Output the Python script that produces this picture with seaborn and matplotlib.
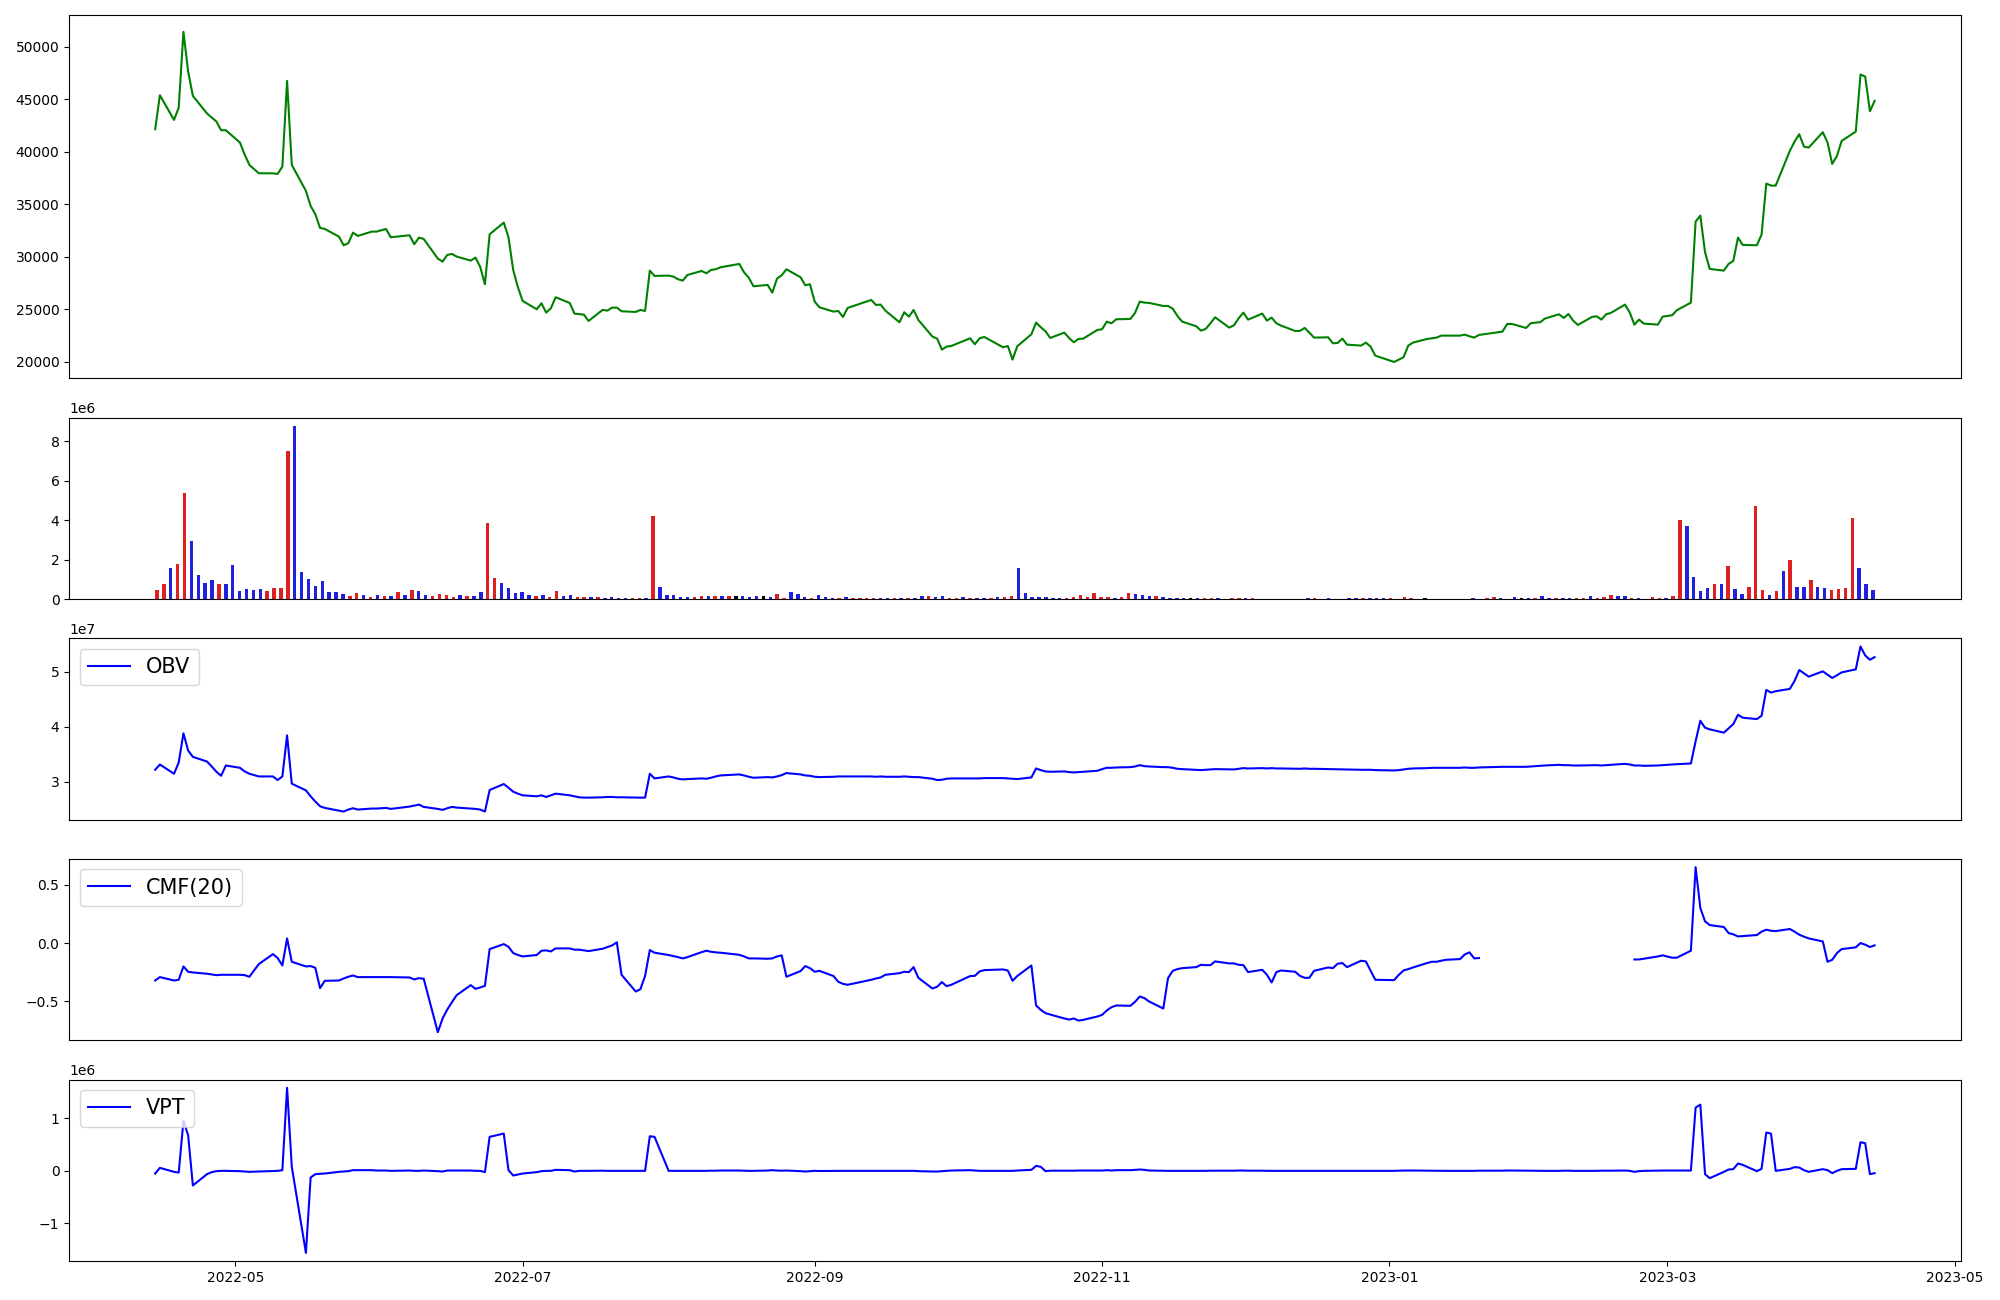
import numpy as np
import pandas as pd
import matplotlib
matplotlib.use("Agg")
import matplotlib.pyplot as plt
import seaborn as sns

# ---------------- data ----------------
start_date = "2022-04-14"
end_date = "2023-04-14"
holidays = ["2022-05-05", "2022-06-01", "2022-06-06", "2022-08-15", "2022-09-09",
            "2022-09-12", "2022-10-03", "2022-10-10", "2022-12-30", "2023-01-23",
            "2023-01-24", "2023-03-01"]

close = [
    42135, 45370, 43023, 44196, 51400, 47621, 45306, 43638, 43245, 42864,
    42039, 42039, 40866, 39724, 38741, 37948, 37940, 37885, 38582, 46733,
    38741, 36267, 34840, 34047, 32747, 32651, 31922, 31097, 31288, 32303,
    31986, 32398, 32398, 32651, 31859, 32049, 31193, 31827, 31700, 29829,
    29543, 30177, 30273, 30019, 29639, 29924, 29036, 27387, 32144, 33254,
    31859, 28750, 27108, 25801, 25008, 25579, 24691, 25103, 26150, 25611,
    24596, 24549, 24500, 23898, 24954, 24881, 25166, 25166, 24817, 24754,
    24944, 24849, 28687, 28180, 28211, 28116, 27862, 27736, 28275, 28655,
    28433, 28750, 28814, 29004, 29321, 28528, 28020, 27196, 27323, 26593,
    27926, 28243, 28814, 28053, 27291, 27387, 25738, 25198, 24786, 24849,
    24278, 25135, 25896, 25420, 25452, 24881, 23771, 24722, 24310, 24944,
    23993, 22407, 22217, 21170, 21456, 21519, 22249, 21678, 22249, 22376,
    21392, 21519, 20219, 21487, 22629, 23739, 23295, 22915, 22280, 22788,
    22280, 21868, 22185, 22217, 23041, 23105, 23834, 23676, 24056, 24088,
    24659, 25738, 25643, 25611, 25326, 25326, 25071, 24373, 23834, 23390,
    22978, 23136, 23676, 24246, 23263, 23485, 24151, 24690, 24024, 24595,
    23930, 24215, 23676, 23454, 22946, 22946, 23232, 22788, 22312, 22344,
    21773, 21805, 22217, 21646, 21551, 21836, 21456, 20599, 19997, 20219,
    20441, 21551, 21836, 22185, 22249, 22312, 22502, 22502, 22502, 22597,
    22439, 22312, 22566, 22883, 23612, 23612, 23232, 23676, 23739, 23771,
    24120, 24532, 24183, 24564, 23930, 23517, 24278, 24342, 24025, 24532,
    24659, 25452, 24722, 23549, 24025, 23644, 23549, 24310, 24437, 24912,
    25642, 33349, 33920, 30431, 28845, 28687, 29321, 29607, 31827, 31129,
    31097, 32112, 36965, 36774, 36774, 40073, 40961, 41659, 40485, 40390,
    41849, 40866, 38836, 39597, 41024, 41912, 47336, 47146, 43847, 44830,
]

# volume in millions of shares
volume_m = [
    0.47, 0.78, 1.59, 1.79, 5.38, 2.95, 1.23, 0.83, 0.98, 0.78,
    0.78, 1.74, 0.42, 0.52, 0.47, 0.52, 0.42, 0.57, 0.57, 7.50,
    8.77, 1.38, 1.03, 0.67, 0.93, 0.37, 0.37, 0.27, 0.17, 0.32,
    0.22, 0.12, 0.22, 0.17, 0.17, 0.37, 0.22, 0.47, 0.42, 0.22,
    0.17, 0.27, 0.22, 0.12, 0.22, 0.17, 0.17, 0.37, 3.86, 1.08,
    0.83, 0.57, 0.32, 0.37, 0.22, 0.17, 0.22, 0.12, 0.42, 0.17,
    0.22, 0.12, 0.12, 0.12, 0.12, 0.07, 0.12, 0.07, 0.07, 0.07,
    0.07, 0.07, 4.22, 0.62, 0.22, 0.22, 0.12, 0.12, 0.12, 0.17,
    0.17, 0.17, 0.17, 0.17, 0.17, 0.17, 0.12, 0.17, 0.17, 0.12,
    0.27, 0.07, 0.37, 0.27, 0.12, 0.07, 0.22, 0.12, 0.07, 0.07,
    0.12, 0.07, 0.07, 0.07, 0.07, 0.07, 0.07, 0.07, 0.07, 0.07,
    0.07, 0.17, 0.17, 0.12, 0.17, 0.07, 0.07, 0.12, 0.07, 0.07,
    0.07, 0.07, 0.12, 0.12, 0.17, 1.59, 0.32, 0.12, 0.12, 0.12,
    0.07, 0.07, 0.07, 0.12, 0.22, 0.12, 0.32, 0.12, 0.12, 0.07,
    0.12, 0.32, 0.27, 0.22, 0.17, 0.17, 0.12, 0.07, 0.07, 0.07,
    0.07, 0.07, 0.07, 0.07, 0.07, 0.00, 0.07, 0.07, 0.07, 0.07,
    0.00, 0.00, 0.00, 0.00, 0.00, 0.00, 0.00, 0.07, 0.07, 0.00,
    0.07, 0.00, 0.00, 0.07, 0.07, 0.07, 0.07, 0.07, 0.07, 0.07,
    0.00, 0.12, 0.07, 0.00, 0.07, 0.00, 0.00, 0.00, 0.00, 0.00,
    0.00, 0.07, 0.00, 0.07, 0.12, 0.07, 0.00, 0.12, 0.07, 0.07,
    0.07, 0.17, 0.07, 0.07, 0.07, 0.07, 0.07, 0.07, 0.17, 0.07,
    0.12, 0.22, 0.17, 0.17, 0.07, 0.07, 0.00, 0.12, 0.07, 0.07,
    0.17, 4.01, 3.71, 1.13, 0.42, 0.57, 0.78, 0.78, 1.69, 0.52,
    0.27, 0.62, 4.72, 0.47, 0.22, 0.42, 1.43, 1.99, 0.62, 0.62,
    0.98, 0.62, 0.57, 0.47, 0.52, 0.57, 4.11, 1.59, 0.78, 0.47,
]

# candle direction of each day: r = up, b = down, k = unchanged
bar_dir = (
    "rrbrrbbbbr" "bbbbbbrrrr" "bbbbbbbbrr" "brbrbrbrbb" "rrrrbrbbrr"
    "bbbbbrbrrb" "brrbrbbbbr" "rbrbbbbbrr" "brbrkbbbkb" "rrbbbrbbbr"
    "brrrrbbrbr" "bbrbbrrbrb" "brbrrbbbbb" "bbrrrrrrrb" "rrbbbrbbbb"
    "kbrrbkrrbr" "kkkkkkkbrk" "bkkbbrbbbr" "krrkkkkkkk" "kbkrrbkbkb"
    "rbbrbbrrbr" "rrbbrbkrrb" "rrbbbbrbrb" "brrrbrbrbb" "rbbrrrrbbb"
)

# On-Balance Volume, in units of 1e7
obv_e7 = [
    3.217, 3.313, 3.145, 3.349, 3.880, 3.566, 3.452, 3.367, 3.277, 3.181,
    3.108, 3.295, 3.253, 3.187, 3.145, 3.096, 3.096, 3.030, 3.096, 3.843,
    2.964, 2.843, 2.735, 2.639, 2.554, 2.524, 2.476, 2.458, 2.494, 2.518,
    2.494, 2.512, 2.512, 2.524, 2.506, 2.548, 2.566, 2.584, 2.542, 2.506,
    2.488, 2.518, 2.542, 2.530, 2.512, 2.506, 2.494, 2.458, 2.849, 2.958,
    2.892, 2.819, 2.783, 2.753, 2.735, 2.753, 2.723, 2.753, 2.783, 2.753,
    2.735, 2.717, 2.711, 2.711, 2.717, 2.723, 2.723, 2.717, 2.717, 2.711,
    2.711, 2.711, 3.145, 3.060, 3.096, 3.078, 3.054, 3.042, 3.048, 3.060,
    3.054, 3.072, 3.096, 3.114, 3.133, 3.114, 3.090, 3.072, 3.084, 3.078,
    3.096, 3.120, 3.157, 3.133, 3.114, 3.108, 3.090, 3.084, 3.090, 3.096,
    3.096, 3.096, 3.096, 3.090, 3.096, 3.090, 3.090, 3.096, 3.090, 3.084,
    3.084, 3.054, 3.030, 3.036, 3.054, 3.060, 3.060, 3.060, 3.060, 3.066,
    3.066, 3.060, 3.054, 3.048, 3.078, 3.241, 3.211, 3.187, 3.181, 3.187,
    3.175, 3.169, 3.175, 3.181, 3.199, 3.229, 3.253, 3.253, 3.259, 3.265,
    3.277, 3.301, 3.283, 3.277, 3.265, 3.265, 3.253, 3.235, 3.229, 3.217,
    3.211, 3.217, 3.223, 3.229, 3.223, 3.223, 3.235, 3.247, 3.241, 3.247,
    3.241, 3.247, 3.241, 3.241, 3.235, 3.235, 3.241, 3.235, 3.235, 3.229,
    3.229, 3.223, 3.223, 3.223, 3.217, 3.217, 3.217, 3.211, 3.205, 3.211,
    3.223, 3.235, 3.241, 3.247, 3.253, 3.253, 3.253, 3.253, 3.253, 3.259,
    3.253, 3.253, 3.259, 3.271, 3.271, 3.271, 3.271, 3.277, 3.283, 3.289,
    3.295, 3.307, 3.301, 3.301, 3.295, 3.295, 3.301, 3.301, 3.295, 3.301,
    3.307, 3.325, 3.313, 3.295, 3.295, 3.289, 3.295, 3.301, 3.313, 3.319,
    3.331, 3.735, 4.108, 3.982, 3.952, 3.892, 3.970, 4.048, 4.217, 4.163,
    4.139, 4.199, 4.669, 4.620, 4.645, 4.687, 4.831, 5.030, 4.970, 4.910,
    5.006, 4.946, 4.886, 4.934, 4.988, 5.042, 5.458, 5.295, 5.217, 5.265,
]

nan = float("nan")
cmf20 = [
    -0.322, -0.293, -0.322, -0.316, -0.201, -0.247, -0.253, -0.264, -0.270, -0.276,
    -0.273, -0.273, -0.273, -0.276, -0.290, -0.181, -0.095, -0.129, -0.193, 0.040,
    -0.161, -0.201, -0.198, -0.213, -0.388, -0.325, -0.322, -0.305, -0.290, -0.279,
    -0.293, -0.293, -0.293, -0.293, -0.293, -0.296, -0.313, -0.302, -0.307, -0.767,
    -0.650, -0.572, -0.509, -0.448, -0.362, -0.394, -0.382, -0.368, -0.052, -0.009,
    -0.032, -0.086, -0.103, -0.115, -0.103, -0.066, -0.063, -0.072, -0.046, -0.046,
    -0.057, -0.057, -0.063, -0.069, -0.049, -0.034, -0.020, 0.006, -0.273, -0.417,
    -0.397, -0.282, -0.060, -0.083, -0.103, -0.112, -0.121, -0.132, -0.121, -0.078,
    -0.066, -0.075, -0.080, -0.083, -0.101, -0.115, -0.132, -0.132, -0.135, -0.132,
    -0.115, -0.106, -0.290, -0.241, -0.198, -0.216, -0.247, -0.239, -0.284, -0.333,
    -0.351, -0.359, -0.316, -0.305, -0.296, -0.273, -0.259, -0.247, -0.250, -0.207,
    -0.299, -0.391, -0.376, -0.336, -0.371, -0.359, -0.284, -0.282, -0.244, -0.233,
    -0.227, -0.236, -0.325, -0.284, -0.193, -0.537, -0.575, -0.603, -0.615, -0.649,
    -0.658, -0.649, -0.667, -0.661, -0.632, -0.618, -0.580, -0.552, -0.537, -0.540,
    -0.506, -0.460, -0.474, -0.503, -0.563, -0.302, -0.239, -0.224, -0.216, -0.207,
    -0.187, -0.190, -0.190, -0.158, -0.175, -0.175, -0.187, -0.190, -0.250, -0.230,
    -0.273, -0.339, -0.250, -0.236, -0.247, -0.282, -0.299, -0.299, -0.239, -0.210,
    -0.216, -0.178, -0.172, -0.207, -0.152, -0.158, -0.236, -0.316, -0.319, -0.273,
    -0.236, -0.224, -0.210, -0.172, -0.161, -0.161, -0.152, -0.144, -0.138, -0.098,
    -0.080, -0.132, -0.129, nan, nan, nan, nan, nan, nan, nan,
    nan, nan, nan, nan, nan, nan, nan, nan, nan, nan,
    nan, nan, nan, -0.141, -0.141, -0.135, -0.115, -0.106, -0.126, -0.126,
    -0.066, 0.653, 0.302, 0.187, 0.155, 0.138, 0.086, 0.075, 0.057, 0.060,
    0.069, 0.098, 0.115, 0.106, 0.103, 0.121, 0.098, 0.072, 0.055, 0.040,
    0.014, -0.161, -0.144, -0.086, -0.052, -0.037, 0.000, -0.014, -0.034, -0.020,
]

# Volume Price Trend, in units of 1e6
vpt_e6 = [
    -0.051, 0.057, -0.019, -0.032, 0.952, 0.679, -0.279, -0.063, -0.025, -0.006,
    0.000, 0.000, -0.006, -0.013, -0.019, -0.013, -0.006, 0.000, 0.013, 1.583,
    0.076, -1.564, -0.127, -0.063, -0.057, -0.051, -0.019, -0.013, -0.006, 0.013,
    0.013, 0.013, 0.006, 0.006, 0.000, 0.006, 0.000, 0.000, 0.006, -0.006,
    -0.013, 0.006, 0.006, 0.006, 0.006, 0.000, 0.000, -0.025, 0.648, 0.711,
    0.013, -0.089, -0.070, -0.051, -0.025, -0.006, 0.000, 0.000, 0.019, 0.013,
    -0.013, 0.000, 0.000, 0.000, 0.003, 0.000, 0.000, 0.000, 0.000, 0.000,
    0.000, 0.000, 0.660, 0.648, 0.000, 0.000, 0.000, 0.000, 0.000, 0.000,
    0.000, 0.003, 0.003, 0.006, 0.006, 0.003, 0.000, 0.000, 0.006, 0.013,
    0.006, 0.003, 0.006, -0.006, -0.013, -0.006, 0.000, -0.003, 0.000, 0.000,
    0.000, 0.000, 0.000, 0.000, 0.000, 0.000, 0.000, 0.000, 0.000, 0.000,
    -0.006, -0.013, -0.013, -0.006, 0.000, 0.006, 0.013, 0.006, 0.000, 0.000,
    0.000, 0.000, 0.000, 0.006, 0.019, 0.095, 0.076, -0.006, 0.003, 0.003,
    0.003, 0.003, 0.006, 0.006, 0.006, 0.006, 0.013, 0.006, 0.013, 0.013,
    0.019, 0.025, 0.019, 0.006, 0.000, 0.000, 0.000, 0.000, 0.000, 0.000,
    0.000, 0.000, 0.003, 0.003, 0.003, 0.003, 0.006, 0.006, 0.003, 0.003,
    0.000, 0.000, 0.000, 0.000, 0.000, 0.000, 0.000, 0.000, 0.000, 0.000,
    0.000, 0.000, 0.000, 0.000, 0.000, 0.000, 0.000, 0.000, 0.000, 0.003,
    0.006, 0.006, 0.006, 0.003, 0.000, 0.000, 0.000, 0.000, 0.000, 0.000,
    0.000, 0.000, 0.003, 0.003, 0.006, 0.006, 0.003, 0.003, 0.000, 0.000,
    0.000, 0.000, 0.003, 0.003, 0.000, 0.000, 0.000, 0.000, 0.003, 0.003,
    0.003, 0.006, 0.000, -0.019, -0.006, 0.000, 0.006, 0.006, 0.006, 0.006,
    0.006, 1.206, 1.263, -0.063, -0.140, -0.019, 0.025, 0.032, 0.140, 0.114,
    -0.006, 0.038, 0.730, 0.711, 0.000, 0.038, 0.070, 0.063, 0.013, -0.019,
    0.032, 0.013, -0.044, 0.000, 0.032, 0.038, 0.546, 0.527, -0.063, -0.044,
]

# ---------------- build ----------------
dates = pd.bdate_range(start_date, end_date)
dates = dates[~dates.isin(pd.to_datetime(holidays))]
n = len(dates)

price_s = pd.Series(np.array(close, dtype=float), index=dates)
vol = np.array(volume_m) * 1e6
obv = pd.Series(np.array(obv_e7) * 1e7, index=dates)
cmf = pd.Series(np.array(cmf20, dtype=float), index=dates)
vpt = pd.Series(np.array(vpt_e6) * 1e6, index=dates)

fig = plt.figure(figsize=(20, 13), dpi=100)
gs = fig.add_gridspec(5, 1, height_ratios=[2, 1, 1, 1, 1],
                      left=0.0346, right=0.9803, top=0.9882, bottom=0.0299,
                      hspace=0.1795)
ax_p = fig.add_subplot(gs[0])
ax_v = fig.add_subplot(gs[1])
ax_o = fig.add_subplot(gs[2])
ax_c = fig.add_subplot(gs[3])
ax_t = fig.add_subplot(gs[4])

# price
sns.lineplot(x=dates, y=price_s.values, color="green", linewidth=1.5, ax=ax_p)

# volume bars (categorical positions)
vol_df = pd.DataFrame({"idx": np.arange(n), "vol": vol, "dir": list(bar_dir)})
sns.barplot(data=vol_df, x="idx", y="vol", hue="dir",
            palette={"r": "red", "b": "blue", "k": "black"},
            dodge=False, width=0.5, errorbar=None, legend=False,
            linewidth=0, ax=ax_v)
ax_v.autoscale(enable=True, axis="x")
ax_v.margins(x=0.05)
ax_v.autoscale_view()
ax_v.set_xticks([])

# OBV
sns.lineplot(x=dates, y=obv.values, color="blue", linewidth=1.5, label="OBV", ax=ax_o)

# CMF (broken at missing values)
valid = cmf.notna()
run_id = (valid != valid.shift()).cumsum()
first = True
for rid, seg in cmf[valid].groupby(run_id[valid]):
    sns.lineplot(x=seg.index, y=seg.values, color="blue", linewidth=1.5,
                 label="CMF(20)" if first else None, ax=ax_c)
    first = False

# VPT
sns.lineplot(x=dates, y=vpt.values, color="blue", linewidth=1.5, label="VPT", ax=ax_t)

# common x range for date panels
xmin, xmax = ax_t.get_xlim()
for ax in (ax_p, ax_o, ax_c):
    ax.set_xlim(xmin, xmax)
    ax.tick_params(axis="x", bottom=False, labelbottom=False)

for ax in (ax_p, ax_v, ax_o, ax_c, ax_t):
    ax.set_xlabel("")
    ax.set_ylabel("")

for ax in (ax_o, ax_c, ax_t):
    ax.legend(loc="upper left", fontsize=15)

fig.savefig("out.png", dpi=100)
